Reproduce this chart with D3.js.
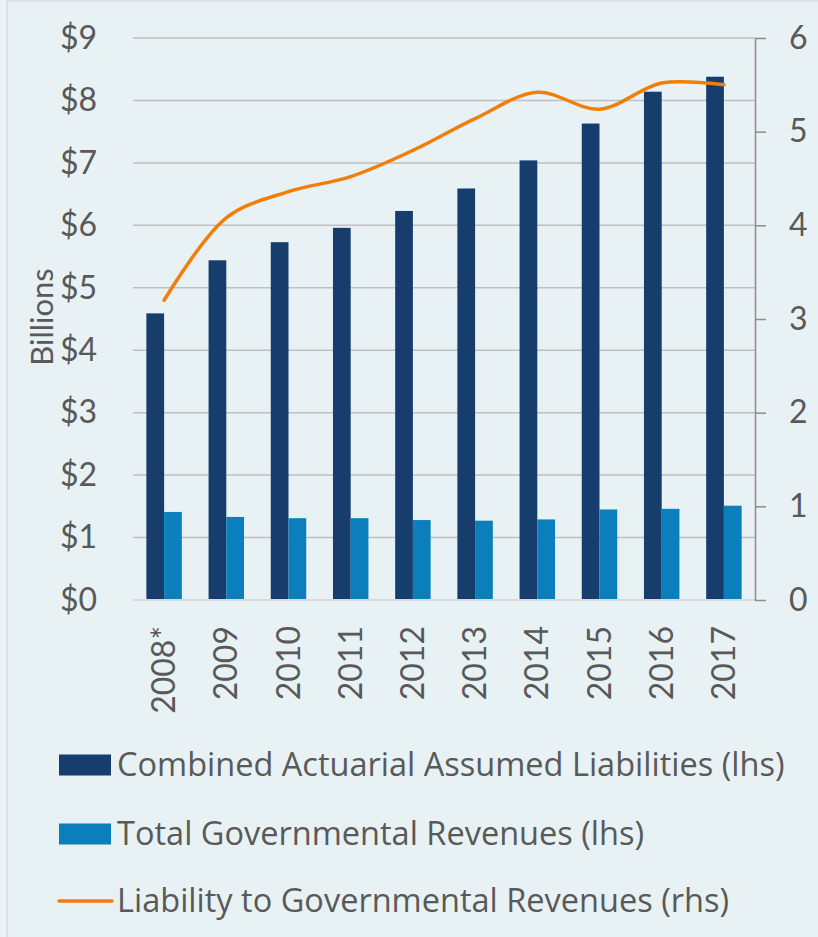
<!DOCTYPE html>
<html>
<head>
<meta charset="utf-8">
<script src="https://cdn.jsdelivr.net/npm/d3@7"></script>
<style>
  html, body { margin: 0; padding: 0; background: #eef3f6; }
  svg { display: block; }
  text { font-family: Lato, "Noto Sans", sans-serif; fill: #595959; }
</style>
</head>
<body>
<div id="chart"></div>
<script>
const width = 818;
const height = 937;
const margin = {left: 133, right: 63, top: 38, bottom: 337};

// data
const years = ["2008*", "2009", "2010", "2011", "2012", "2013", "2014", "2015", "2016", "2017"];
const liabilities = [4.59, 5.44, 5.73, 5.96, 6.23, 6.59, 7.04, 7.63, 8.14, 8.38];
const revenues = [1.41, 1.33, 1.31, 1.31, 1.28, 1.27, 1.29, 1.45, 1.46, 1.51];
const ratio = [3.20, 4.08, 4.36, 4.52, 4.80, 5.14, 5.42, 5.24, 5.52, 5.50];
const leftTicks = [0, 1, 2, 3, 4, 5, 6, 7, 8, 9];
const rightTicks = [0, 1, 2, 3, 4, 5, 6];
const seriesNames = [
  "Combined Actuarial Assumed Liabilities (lhs)",
  "Total Governmental Revenues (lhs)",
  "Liability to Governmental Revenues (rhs)"
];
const colors = ["#173d6d", "#0a7fbb", "#f07f09"];

const svg = d3.select("#chart")
    .append("svg")
    .attr("width", width)
    .attr("height", height);

// frame
svg.append("rect")
    .attr("x", 7).attr("y", 1)
    .attr("width", width).attr("height", height)
    .attr("fill", "#e8f1f4")
    .attr("stroke", "#d6dde2")
    .attr("stroke-width", 1.5);

const plotRight = width - margin.right;
const plotBottom = height - margin.bottom;

const x = d3.scaleBand()
    .domain(years)
    .range([margin.left, plotRight])
    .paddingInner(0.43)
    .paddingOuter(0.215);
const xSub = d3.scaleBand()
    .domain([0, 1])
    .range([0, x.bandwidth()]);
const yLeft = d3.scaleLinear()
    .domain([0, 9])
    .range([plotBottom, margin.top]);
const yRight = d3.scaleLinear()
    .domain([0, 6])
    .range([plotBottom, margin.top]);

// gridlines
svg.append("g")
    .attr("class", "grid")
  .selectAll("line")
  .data(leftTicks.filter(d => d > 0))
  .enter()
  .append("line")
    .attr("x1", margin.left)
    .attr("x2", plotRight)
    .attr("y1", d => yLeft(d))
    .attr("y2", d => yLeft(d))
    .attr("stroke", "#bfbfbf")
    .attr("stroke-width", 1.5);

// left axis
const leftAxis = svg.append("g")
    .attr("transform", `translate(${margin.left},0)`)
    .call(d3.axisLeft(yLeft).tickValues(leftTicks).tickFormat(d => "$" + d).tickSize(0).tickPadding(36));
leftAxis.select(".domain").remove();
leftAxis.selectAll("text")
    .attr("font-size", 32)
    .attr("fill", "#595959");

// bars
const bars = svg.append("g").attr("class", "bars");
[liabilities, revenues].forEach((vals, s) => {
  bars.append("g")
    .selectAll("rect")
    .data(vals)
    .enter()
    .append("rect")
      .attr("x", (d, i) => x(years[i]) + xSub(s))
      .attr("width", xSub.bandwidth())
      .attr("y", d => yLeft(d))
      .attr("height", d => plotBottom - yLeft(d))
      .attr("fill", colors[s]);
});

// baseline
svg.append("line")
    .attr("x1", margin.left).attr("x2", plotRight)
    .attr("y1", plotBottom).attr("y2", plotBottom)
    .attr("stroke", "#d9d9d9")
    .attr("stroke-width", 2);

// right axis
const rightAxis = svg.append("g")
    .attr("transform", `translate(${plotRight},0)`)
    .call(d3.axisRight(yRight).tickValues(rightTicks).tickFormat(d3.format("d"))
      .tickSizeInner(11).tickSizeOuter(0).tickPadding(23));
rightAxis.select(".domain").attr("stroke", "#8c8c8c").attr("stroke-width", 1.5);
rightAxis.selectAll(".tick line").attr("stroke", "#8c8c8c").attr("stroke-width", 1.5);
rightAxis.selectAll("text")
    .attr("font-size", 32)
    .attr("fill", "#595959");

// ratio line
const line = d3.line()
    .x((d, i) => x(years[i]) + x.bandwidth() / 2)
    .y(d => yRight(d))
    .curve(d3.curveCatmullRom.alpha(0.5));
svg.append("path")
    .datum(ratio)
    .attr("fill", "none")
    .attr("stroke", colors[2])
    .attr("stroke-width", 3.5)
    .attr("stroke-linecap", "round")
    .attr("d", line);

// year labels
svg.append("g")
  .selectAll("text")
  .data(years)
  .enter()
  .append("text")
    .attr("transform", d => `translate(${x(d) + x.bandwidth() / 2 + 11},${plotBottom + 26}) rotate(-90)`)
    .attr("text-anchor", "end")
    .attr("font-size", 32)
    .text(d => d);

// y title
svg.append("text")
    .attr("transform", `translate(${53},${317}) rotate(-90)`)
    .attr("text-anchor", "middle")
    .attr("font-size", 31)
    .text("Billions");

// legend
const legend = svg.append("g").attr("class", "legend");
const legendY = [765, 834, 901];
const legendTexts = [];
seriesNames.forEach((name, i) => {
  const g = legend.append("g").attr("transform", `translate(59,${legendY[i]})`);
  if (i < 2) {
    g.append("rect")
      .attr("x", 0).attr("y", -10.5)
      .attr("width", 52).attr("height", 21)
      .attr("fill", colors[i]);
  } else {
    g.append("line")
      .attr("x1", 0).attr("x2", 53)
      .attr("stroke", colors[i])
      .attr("stroke-width", 3.5)
      .attr("stroke-linecap", "round");
  }
  legendTexts.push(g.append("text")
    .attr("x", 58)
    .attr("y", 11)
    .style("font-family", "'Open Sans', sans-serif")
    .attr("font-size", 30)
    .text(name));
});
// size the legend font so the longest entry spans like the original (~668px)
const w0 = legendTexts[0].node().getComputedTextLength();
const fs = Math.min(34, 30 * 668 / w0);
legendTexts.forEach(t => t.attr("font-size", fs));
</script>
</body>
</html>
